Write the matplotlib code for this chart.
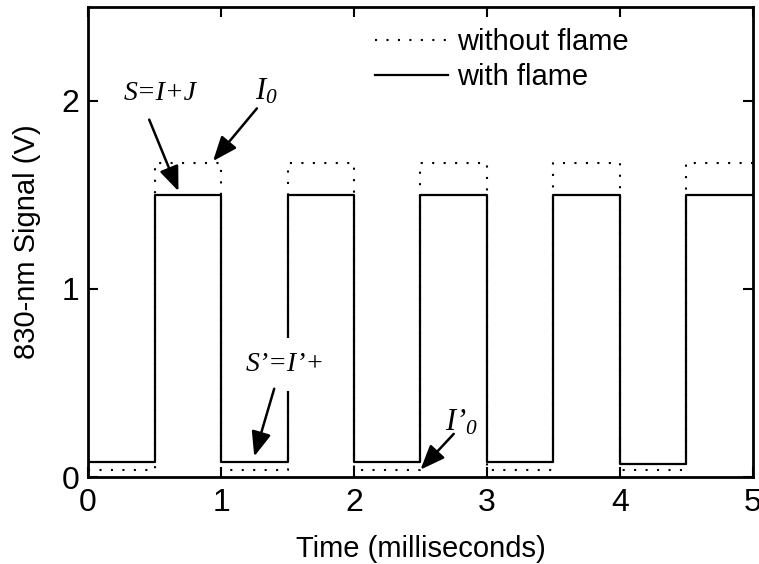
import matplotlib
matplotlib.use("Agg")
import matplotlib.pyplot as plt

plt.rcParams['font.family'] = ['Liberation Sans', 'DejaVu Sans']
plt.rcParams['mathtext.fontset'] = 'custom'
plt.rcParams['mathtext.it'] = 'Liberation Serif:italic'
plt.rcParams['mathtext.rm'] = 'Liberation Serif:italic'

# square-wave transition times (ms) and levels (V)
edge_times = [0.0, 0.5, 1.0, 1.5, 2.0, 2.5, 3.0, 3.5, 4.0, 4.5, 5.0]
with_flame = [0.08, 1.50, 0.08, 1.50, 0.08, 1.50, 0.08, 1.50, 0.07, 1.50, 1.50]
without_flame = [0.04, 1.67, 0.04, 1.67, 0.04, 1.67, 0.04, 1.67, 0.04, 1.67, 1.67]

fig = plt.figure(figsize=(7.59, 5.64), dpi=100)
ax = fig.add_axes([0.116, 0.154, 0.876, 0.834])

ax.step(edge_times, without_flame, where='post', color='black', linestyle=(0, (1, 4.5)),
        linewidth=1.5, label='without flame')
ax.step(edge_times, with_flame, where='post', color='black', linestyle='-',
        linewidth=1.6, label='with flame')

ax.set_xlim(0, 5)
ax.set_ylim(0, 2.5)
ax.set_xticks([0, 1, 2, 3, 4, 5])
ax.set_yticks([0, 1, 2])
ax.tick_params(direction='in', length=7, width=1.5, labelsize=23, top=True, right=True)
ax.tick_params(axis='x', pad=8)
ax.tick_params(axis='y', pad=6)
for s in ax.spines.values():
    s.set_linewidth(2)

ax.set_xlabel('Time (milliseconds)', fontsize=21, labelpad=12)
ax.set_ylabel('830-nm Signal (V)', fontsize=21, labelpad=15)

serif = dict(family='Liberation Serif', style='italic', fontsize=20, ha='center', va='center')
arrow = dict(arrowstyle='-|>,head_length=0.75,head_width=0.3', color='black', lw=1.8,
             mutation_scale=20, shrinkA=0, shrinkB=0)

ax.text(0.54, 2.04, 'S=I+J', **serif)
ax.annotate('', xy=(0.68, 1.52), xytext=(0.46, 1.90), arrowprops=arrow)

ax.text(1.34, 2.05, r'$I_0$', fontsize=22, ha='center', va='center')
ax.annotate('', xy=(0.94, 1.68), xytext=(1.27, 1.96), arrowprops=arrow)

ax.text(1.48, 0.60, 'S’=I’+', zorder=5,
        bbox=dict(fc='white', ec='none', pad=10), **serif)
ax.annotate('', xy=(1.25, 0.11), xytext=(1.40, 0.47), arrowprops=arrow, zorder=6)

ax.text(2.81, 0.29, r'$I{’}_0$', fontsize=22, ha='center', va='center')
ax.annotate('', xy=(2.50, 0.04), xytext=(2.75, 0.23), arrowprops=arrow)

ax.legend(loc='upper left', bbox_to_anchor=(0.432, 0.955), frameon=False, fontsize=21,
          handlelength=2.5, handletextpad=0.3, labelspacing=0.25, borderpad=0,
          borderaxespad=0)

fig.savefig('out.png', dpi=100)
